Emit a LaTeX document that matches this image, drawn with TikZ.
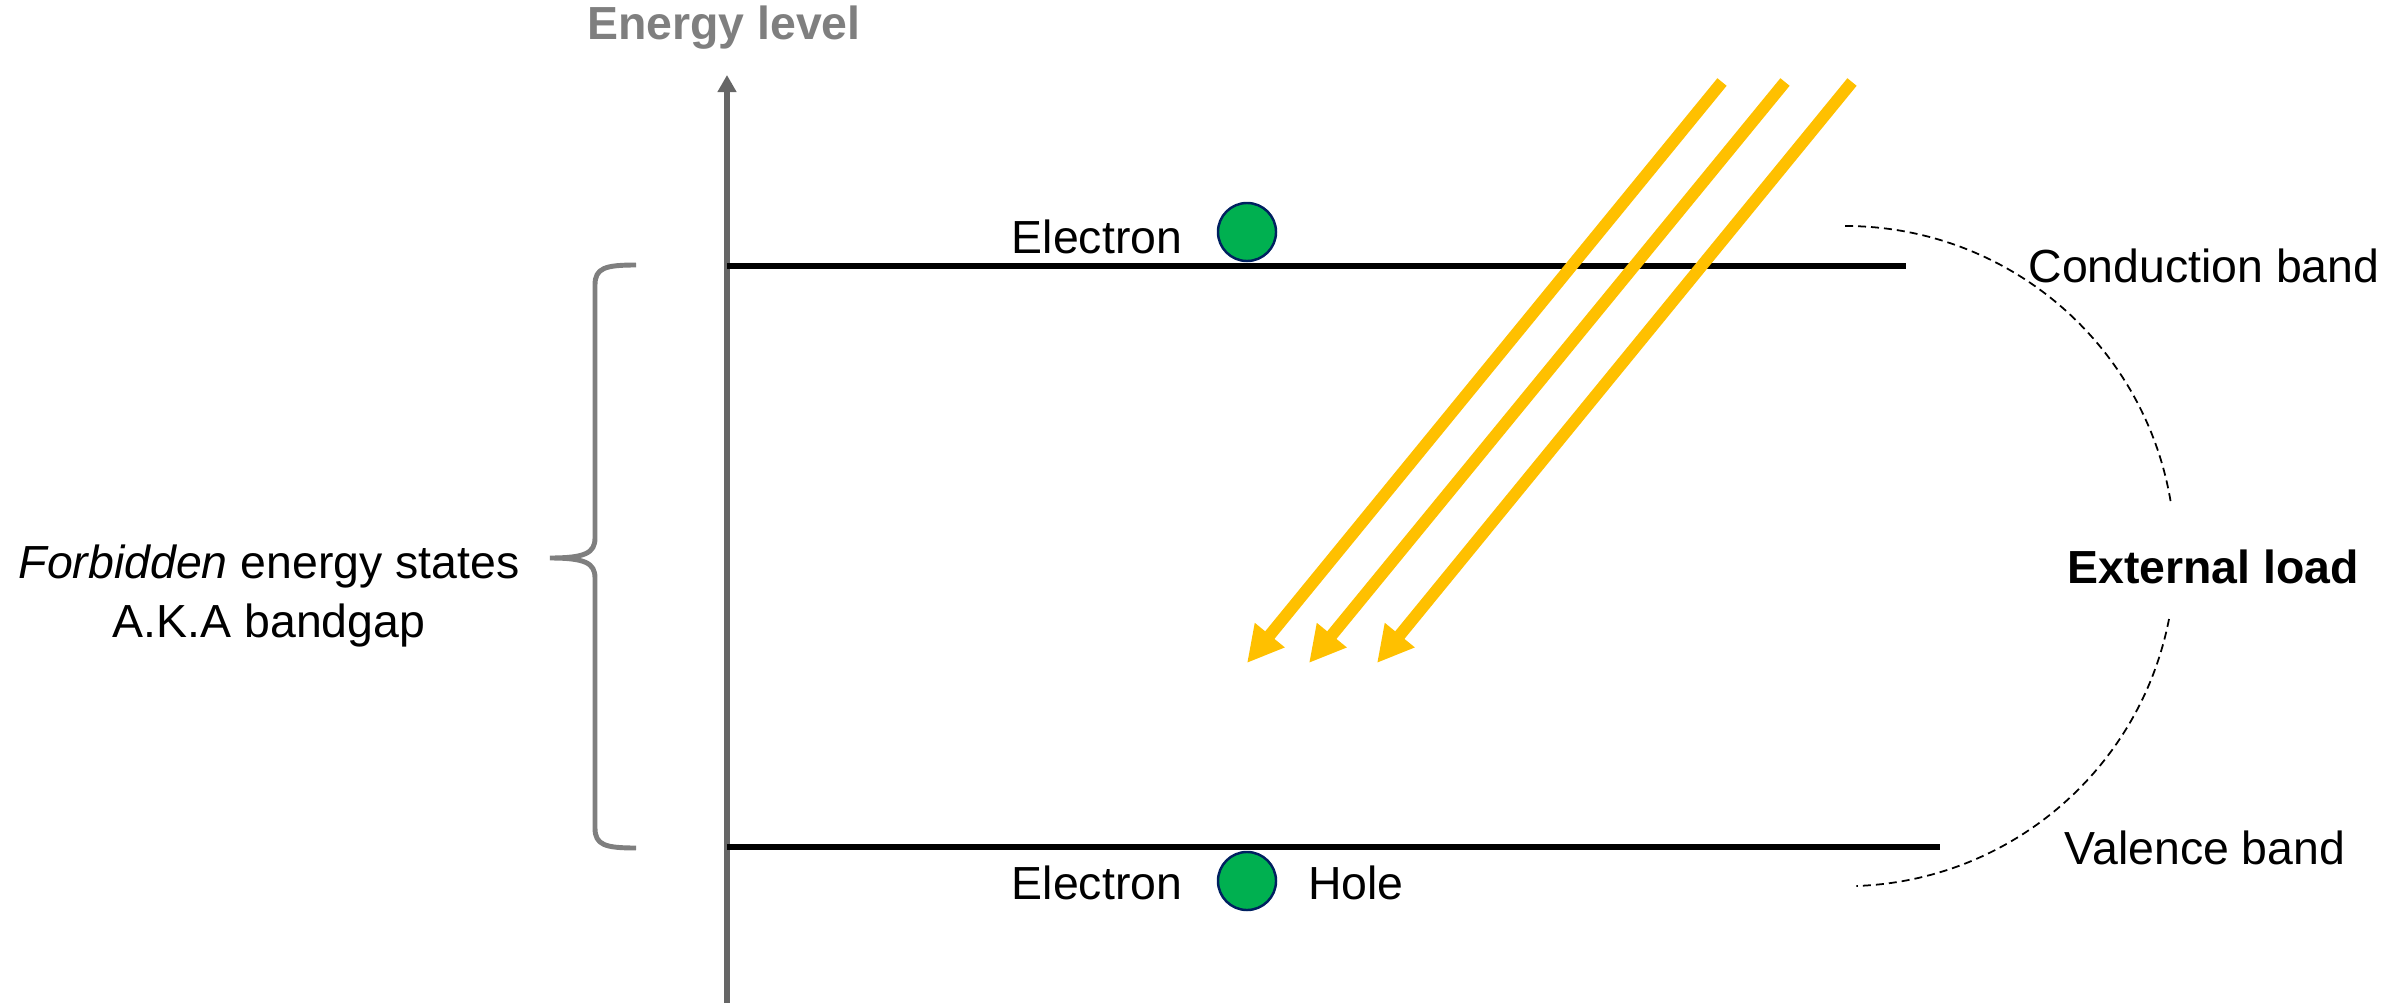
\documentclass[tikz,border=0pt]{standalone}
\usepackage{fontspec}
\setmainfont{Liberation Sans}
\usetikzlibrary{arrows.meta}

\definecolor{raygold}{HTML}{FFC000}
\definecolor{elgreen}{HTML}{00B050}
\definecolor{elnavy}{HTML}{002060}
\definecolor{axisgray}{HTML}{666666}
\definecolor{labelgray}{HTML}{7F7F7F}

\tikzset{
  band/.style={line width=1.45pt},
  ray/.style={draw=raygold, line width=3.4pt, -{Triangle[length=0.36cm,width=0.36cm]}},
  electron/.style={circle, draw=elnavy, fill=elgreen, line width=0.7pt, minimum size=0.58cm, inner sep=0pt},
  lbl/.style={inner sep=0pt, anchor=base},
  wire/.style={dash pattern=on 0.08cm off 0.05cm, line width=0.5pt},
}

\begin{document}
\begin{tikzpicture}[x=0.01cm, y=-0.01cm, font=\fontsize{13.2pt}{17pt}\selectfont]
  \useasboundingbox (0,0) rectangle (2390,1003);

  % energy axis
  \node[lbl, text=labelgray, font=\fontsize{13.2pt}{17pt}\selectfont\bfseries] (elevel) at (724,40) {Energy level};
  \coordinate (axbot) at (727,1003);
  \coordinate (axtop) at (727,75);
  \draw[axisgray, line width=1.7pt, -{Triangle[length=0.17cm,width=0.18cm]}] (axbot) -- (axtop);

  % bands
  \coordinate (cbl) at (727,266);
  \coordinate (cbr) at (1906,266);
  \coordinate (vbl) at (727,847);
  \coordinate (vbr) at (1940,847);
  \draw[band] (cbl) -- (cbr);
  \draw[band] (vbl) -- (vbr);
  \node[lbl] (cband) at (2204,282) {Conduction band};
  \node[lbl] (vband) at (2205,864) {Valence band};

  % electrons
  \node[electron] (etop) at (1247,232) {};
  \node[electron] (ebot) at (1247,881) {};
  \node[lbl] (etoplbl) at (1097,253) {Electron};
  \node[lbl] (ebotlbl) at (1097,899) {Electron};
  \node[lbl] (hole) at (1356,899) {Hole};

  % bandgap brace
  \draw[labelgray, line width=1.4pt] (636,265) .. controls (605,265) and (595,268) .. (595,285) -- (595,538)
    .. controls (595,553) and (585,558) .. (550,558) .. controls (585,558) and (595,563) .. (595,578)
    -- (595,828) .. controls (595,845) and (605,848) .. (636,848);
  \node[align=center, inner sep=0pt] (gap) at (269,596) {\textit{Forbidden} energy states\\A.K.A bandgap};

  % photons
  \coordinate (r1s) at (1722,82);
  \coordinate (r1e) at (1247,663);
  \coordinate (r2s) at (1785,82);
  \coordinate (r2e) at (1309,663);
  \coordinate (r3s) at (1852,82);
  \coordinate (r3e) at (1377,663);
  \draw[ray] (r1s) -- (r1e);
  \draw[ray] (r2s) -- (r2e);
  \draw[ray] (r3s) -- (r3e);

  % external load
  \node[lbl, font=\fontsize{13.2pt}{17pt}\selectfont\bfseries] (load) at (2213,583) {External load};
  \coordinate (ldtop) at (1845,226);
  \coordinate (ldbot) at (2169,619);
  \draw[wire] (ldtop) arc[start angle=90, end angle=9, radius=3.3cm];
  \draw[wire] (ldbot) arc[start angle=-11, end angle=-88, radius=3.3cm];
\end{tikzpicture}
\end{document}
